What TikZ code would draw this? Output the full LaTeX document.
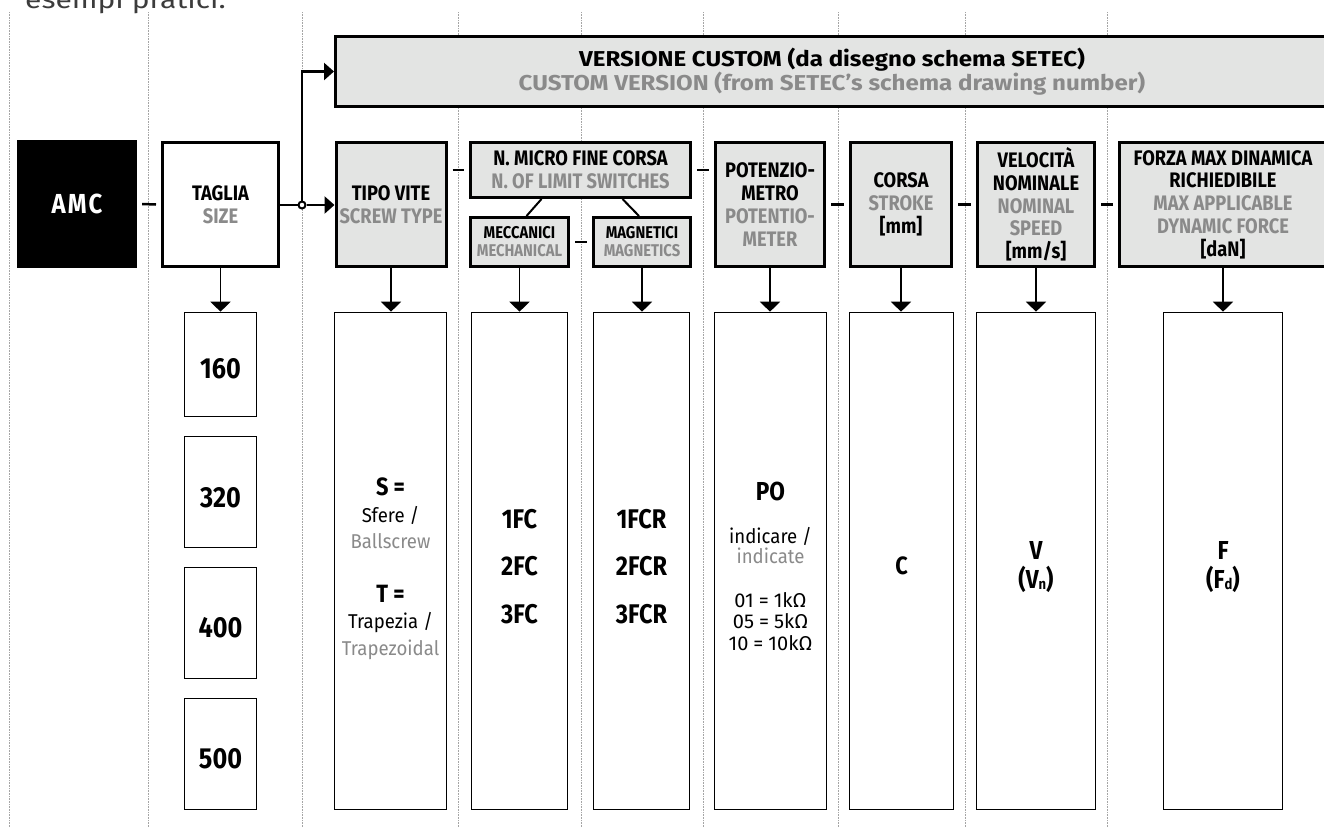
\documentclass[tikz,border=0pt]{standalone}
\usepackage{fontspec}
\setmainfont{Fira Sans}[FakeStretch=0.87]
\newfontfamily\plainfont{Fira Sans}
\newfontfamily\widefont{Fira Sans}[FakeStretch=1.12]
\newfontfamily\regfont{Fira Sans}[FakeStretch=0.93]
\newfontfamily\introfont{Fira Sans}[FakeStretch=1.2]
\usetikzlibrary{arrows.meta}
\definecolor{boxgray}{RGB}{227,228,227}
\definecolor{engray}{RGB}{138,138,138}
\definecolor{guidegray}{RGB}{165,165,165}
\definecolor{toptext}{RGB}{60,60,60}
\newcommand{\en}[1]{{\color{engray}#1}}
\newcommand{\sbs}[1]{\raisebox{-1pt}{\fontsize{15}{15}\selectfont #1}}
\newcommand{\eqsp}{\hspace{5pt}=\hspace{5pt}}
\begin{document}
\begin{tikzpicture}[x=1pt,y=-1pt,
  guide/.style={draw=guidegray, line width=0.8pt, dash pattern=on 0.8pt off 0.8pt},
  hbox/.style={draw, line width=3pt, fill=boxgray, inner sep=0pt, align=center,
    font=\bfseries\fontsize{21}{22.7}\selectfont},
  smallhdr/.style={font=\bfseries\fontsize{17}{18}\selectfont},
  blackbox/.style={fill=black, text=white, inner sep=0pt,
    font=\bfseries\fontsize{27.5}{28}\selectfont},
  lbox/.style={draw, line width=1.6pt, fill=white, inner sep=0pt},
  lt/.style={anchor=base, inner sep=0pt},
  bignum/.style={lt, font=\bfseries\fontsize{29}{29}\selectfont},
  bigcode/.style={lt, font=\bfseries\fontsize{27}{27}\selectfont},
  eqbold/.style={lt, font=\bfseries\fontsize{25}{25}\selectfont},
  regtxt/.style={lt, font=\regfont\fontsize{20}{20}\selectfont},
  valtxt/.style={lt, font=\plainfont\fontsize{20}{20}\selectfont},
  sepline/.style={line width=2.5pt},
  slantline/.style={line width=2pt},
  dn/.style={line width=1.5pt, -{Triangle[width=20pt,length=10pt]}},
  rt/.style={line width=2.5pt, -{Triangle[width=17pt,length=10pt]}},
  thickline/.style={line width=2.5pt}
]
\useasboundingbox (0,0) rectangle (1324,827);

% guide lines
\foreach \gx in {9,148,302,458,581,703,838,965,1107}
  \draw[guide] (\gx,12) -- (\gx,827);

% intro text
\node[anchor=base west, inner sep=0pt, text=toptext,
  font=\introfont\fontsize{25}{25}\selectfont] (intro) at (25,9) {esempi pratici.};

% header boxes
\node[blackbox, minimum width=120pt, minimum height=128pt] (amc) at (77,204) {A\kern2pt M\kern2pt C};
\node[hbox, fill=white, minimum width=116pt, minimum height=124pt] (taglia) at (220.5,204.5) {TAGLIA\\\en{SIZE}};
\node[hbox, minimum width=110pt, minimum height=124pt] (tipo) at (391,204.5) {TIPO VITE\\\en{SCREW TYPE}};
\node[hbox, minimum width=220pt, minimum height=55pt] (nmicro) at (580.5,170) {N. MICRO FINE CORSA\\\en{N. OF LIMIT SWITCHES}};
\node[hbox, smallhdr, minimum width=98pt, minimum height=49pt] (mecc) at (519.5,242) {MECCANICI\\\en{MECHANICAL}};
\node[hbox, smallhdr, minimum width=97pt, minimum height=49pt] (magn) at (642,242) {MAGNETICI\\\en{MAGNETICS}};
\node[hbox, minimum width=109pt, minimum height=124pt] (pot) at (770,204.5) {POTENZIO-\\METRO\\\en{POTENTIO-}\\\en{METER}};
\node[hbox, minimum width=101pt, minimum height=124pt] (corsa) at (901,204.5) {CORSA\\\en{STROKE}\\{[mm]}};
\node[hbox, minimum width=117pt, minimum height=124pt] (vel) at (1036,204.5) {VELOCITÀ\\NOMINALE\\\en{NOMINAL}\\\en{SPEED}\\{[mm/s]}};
\node[hbox, minimum width=207pt, minimum height=124pt] (forza) at (1223,204.5) {FORZA MAX DINAMICA\\RICHIEDIBILE\\\en{MAX APPLICABLE}\\\en{DYNAMIC FORCE}\\{[daN]}};
\node[hbox, font=\widefont\bfseries\fontsize{21.5}{22.4}\selectfont, minimum width=993pt, minimum height=70pt] (custom) at (832,71.5) {VERSIONE CUSTOM (da disegno schema SETEC)\\\en{CUSTOM VERSION (from SETEC’s schema drawing number)}};

% lower boxes
\node[lbox, minimum width=72pt, minimum height=104pt] (b160) at (220.5,364.5) {};
\node[lbox, minimum width=72pt, minimum height=111pt] (b320) at (220.5,492) {};
\node[lbox, minimum width=72pt, minimum height=111pt] (b400) at (220.5,623) {};
\node[lbox, minimum width=72pt, minimum height=111pt] (b500) at (220.5,754) {};
\node[lbox, minimum width=112pt, minimum height=497pt] (tipolow) at (390.5,561) {};
\node[lbox, minimum width=96pt, minimum height=497pt] (mecclow) at (519.5,561) {};
\node[lbox, minimum width=96pt, minimum height=497pt] (magnlow) at (641.5,561) {};
\node[lbox, minimum width=112pt, minimum height=497pt] (potlow) at (770.5,561) {};
\node[lbox, minimum width=104pt, minimum height=497pt] (corsalow) at (901.5,561) {};
\node[lbox, minimum width=119pt, minimum height=497pt] (vellow) at (1036,561) {};
\node[lbox, minimum width=119pt, minimum height=497pt] (forzalow) at (1223,561) {};

% lower texts
\node[bignum] (t160) at (220.5,378) {160};
\node[bignum] (t320) at (220.5,507) {320};
\node[bignum] (t400) at (220.5,637) {400};
\node[bignum] (t500) at (220.5,768) {500};

\node[eqbold] (tS) at (390.5,495) {S =};
\node[regtxt] (tSf) at (390.5,522) {Sfere /};
\node[regtxt] (tSb) at (390.5,548) {\en{Ballscrew}};
\node[eqbold] (tT) at (390.5,602) {T =};
\node[regtxt] (tTr) at (390.5,628) {Trapezia /};
\node[regtxt] (tTz) at (390.5,655) {\en{Trapezoidal}};

\node[bigcode] (t1fc) at (519.5,528) {1FC};
\node[bigcode] (t2fc) at (519.5,575) {2FC};
\node[bigcode] (t3fc) at (519.5,623) {3FC};
\node[bigcode] (t1fcr) at (641.5,528) {1FCR};
\node[bigcode] (t2fcr) at (641.5,575) {2FCR};
\node[bigcode] (t3fcr) at (641.5,623) {3FCR};

\node[bigcode, font=\bfseries\fontsize{26}{26}\selectfont] (tPO) at (770.5,500) {PO};
\node[regtxt] (tind) at (770.5,543) {indicare /};
\node[regtxt] (tinde) at (770.5,563) {\en{indicate}};
\node[valtxt] (t01) at (770.5,607) {01\eqsp 1kΩ};
\node[valtxt] (t05) at (770.5,628) {05\eqsp 5kΩ};
\node[valtxt] (t10) at (770.5,650) {10\eqsp 10kΩ};

\node[eqbold] (tC) at (901.5,574) {C};
\node[bigcode, font=\bfseries\fontsize{26}{26}\selectfont] (tV) at (1036,559) {V};
\node[bigcode, font=\bfseries\fontsize{26}{26}\selectfont] (tVn) at (1036,588) {(V\sbs{n})};
\node[bigcode, font=\bfseries\fontsize{26}{26}\selectfont] (tF) at (1223,559) {F};
\node[bigcode, font=\bfseries\fontsize{26}{26}\selectfont] (tFd) at (1223,588) {(F\sbs{d})};

% junction and arrows to custom / tipo
\node[circle, draw, fill=white, line width=2pt, minimum size=7pt, inner sep=0pt] (junc) at (302,205) {};
\draw[thickline] (taglia.east |- junc) -- (junc.west);
\draw[rt] (junc.east) -- (tipo.west |- junc);
\draw[rt] (junc.north) |- (custom.west);

% separators
\draw[sepline] ([xshift=5pt]amc.east) -- ([xshift=-5pt]taglia.west);
\draw[sepline] ([xshift=5pt]tipo.east |- nmicro.west) -- ([xshift=-5pt]nmicro.west);
\draw[sepline] ([xshift=5pt]mecc.east) -- ([xshift=-5pt]magn.west);
\draw[sepline] ([xshift=5pt]nmicro.east) -- ([xshift=-5pt]pot.west |- nmicro.east);
\draw[sepline] ([xshift=5pt]pot.east) -- ([xshift=-5pt]corsa.west);
\draw[sepline] ([xshift=5pt]corsa.east) -- ([xshift=-5pt]vel.west);
\draw[sepline] ([xshift=5pt]vel.east) -- ([xshift=-5pt]forza.west);

% slanted links
\draw[slantline] ([xshift=-39pt]nmicro.south) -- ([xshift=7pt]mecc.north);
\draw[slantline] ([xshift=42pt]nmicro.south) -- ([xshift=-3pt]magn.north);

% down arrows
\draw[dn] (taglia.south) -- (b160.north);
\draw[dn] (tipo.south) -- (tipo.south |- tipolow.north);
\draw[dn] (mecc.south) -- (mecc.south |- mecclow.north);
\draw[dn] (magn.south) -- (magn.south |- magnlow.north);
\draw[dn] (pot.south) -- (pot.south |- potlow.north);
\draw[dn] (corsa.south) -- (corsa.south |- corsalow.north);
\draw[dn] (vel.south) -- (vel.south |- vellow.north);
\draw[dn] (forza.south) -- (forza.south |- forzalow.north);
\end{tikzpicture}
\end{document}
